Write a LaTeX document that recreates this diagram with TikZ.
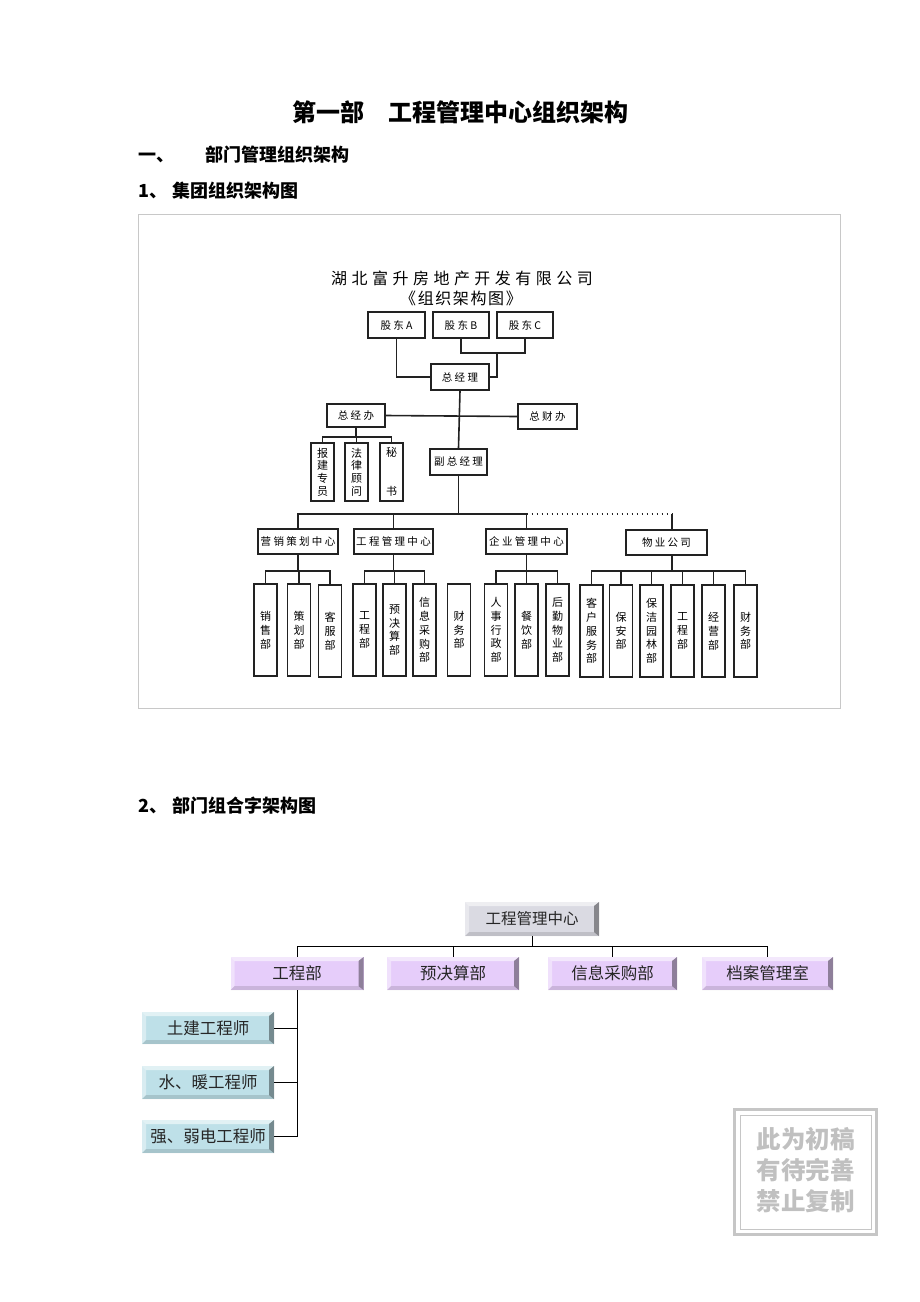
\documentclass[tikz,border=0pt]{standalone}
\usepackage{fontspec}
\setmainfont{Noto Sans CJK SC}
\newfontfamily\spaced[LetterSpace=22]{Noto Sans CJK SC}
\newfontfamily\widespaced[LetterSpace=28]{Noto Sans CJK SC}
\newfontfamily\halfspaced[LetterSpace=10]{Noto Sans CJK SC}
\usepackage{tikz}
\usetikzlibrary{positioning}
\definecolor{linegray}{RGB}{34,34,34}
\definecolor{framegray}{RGB}{200,200,200}
\definecolor{topgray}{RGB}{218,218,226}
\definecolor{lavender}{RGB}{230,205,250}
\definecolor{paleblue}{RGB}{190,224,232}
\definecolor{stampgray}{RGB}{192,192,192}
\tikzset{
	hbox/.style={rectangle, draw=linegray, line width=1.8pt, fill=white, inner sep=0pt, font=\spaced\fontsize{10.5}{12}\selectfont},
	vbox/.style={rectangle, draw=linegray, line width=1.8pt, fill=white, inner sep=0pt, minimum width=23pt, minimum height=92pt, align=center, font=\fontsize{11}{13.8}\selectfont},
	link/.style={linegray, line width=1.6pt},
	thinlink/.style={black, line width=1pt},
	bevel/.style={rectangle, fill=#1, inner sep=0pt, text=black!85, font=\fontsize{16.5}{18}\selectfont,
		path picture={
			\fill[white,opacity=0.55] (path picture bounding box.north west) -- (path picture bounding box.north east)
				-- ([shift={(-5pt,-4pt)}]path picture bounding box.north east) -- ([shift={(4pt,-4pt)}]path picture bounding box.north west) -- cycle;
			\fill[white,opacity=0.4] (path picture bounding box.north west) -- ([shift={(4pt,-4pt)}]path picture bounding box.north west)
				-- ([shift={(4pt,4pt)}]path picture bounding box.south west) -- (path picture bounding box.south west) -- cycle;
			\fill[black,opacity=0.38] (path picture bounding box.north east) -- (path picture bounding box.south east)
				-- ([shift={(-5pt,4pt)}]path picture bounding box.south east) -- ([shift={(-5pt,-4pt)}]path picture bounding box.north east) -- cycle;
			\fill[black,opacity=0.12] (path picture bounding box.south west) -- (path picture bounding box.south east)
				-- ([shift={(-5pt,4pt)}]path picture bounding box.south east) -- ([shift={(4pt,4pt)}]path picture bounding box.south west) -- cycle;
		}}
}

\begin{document}
\begin{tikzpicture}[x=1pt,y=-1pt]
	\useasboundingbox (0,0) rectangle (920,1302);
	% headings
	\node[font=\bfseries\fontsize{24}{26}\selectfont] (title) at (460,112) {第一部\hspace{24pt}工程管理中心组织架构};
	\node[anchor=west, font=\bfseries\fontsize{18}{20}\selectfont, inner sep=0pt] (sec1) at (138,155) {一、\hspace{31pt}部门管理组织架构};
	\node[anchor=west, font=\bfseries\fontsize{18}{20}\selectfont, inner sep=0pt] (sub1) at (138,191) {1、\hspace{5pt}集团组织架构图};
	\node[anchor=west, font=\bfseries\fontsize{18}{20}\selectfont, inner sep=0pt] (sub2) at (138,806) {2、\hspace{5pt}部门组合字架构图};
	\draw[framegray, line width=0.8pt] (138,214) rectangle (840,708);
	% chart title
	\node[font=\widespaced\fontsize{16}{18}\selectfont, inner sep=0pt] (ctitle) at (462,278) {湖北富升房地产开发有限公司};
	\node[font=\halfspaced\fontsize{16}{18}\selectfont, inner sep=0pt] (csub) at (461,298) {《组织架构图》};
	% top of chart
	\node[hbox, minimum width=57pt, minimum height=26pt] (gdA) at (396.5,325) {股东A};
	\node[hbox, minimum width=56pt, minimum height=26pt] (gdB) at (461,325) {股东B};
	\node[hbox, minimum width=56pt, minimum height=26pt] (gdC) at (525,325) {股东C};
	\node[hbox, minimum width=58pt, minimum height=26pt] (zjl) at (460,377) {总经理};
	\node[hbox, minimum width=58pt, minimum height=23pt] (zjb) at (356,415.5) {总经办};
	\node[hbox, minimum width=59pt, minimum height=25pt] (zcb) at (547.5,416.5) {总财办};
	\node[hbox, minimum width=57pt, minimum height=26pt] (fzjl) at (458.5,462) {副总经理};
	\node[vbox, minimum height=58pt, font=\fontsize{11}{12.7}\selectfont] (bjzy) at (322.5,472) {报\\建\\专\\员};
	\node[vbox, minimum height=58pt, font=\fontsize{11}{12.7}\selectfont] (flgw) at (356.5,472) {法\\律\\顾\\问};
	\node[vbox, minimum height=58pt, font=\fontsize{11}{13}\selectfont] (mish) at (391.5,472) {秘\\~\\~\\书};
	\coordinate (gdbus) at (0,353);
	\coordinate (zjbbus) at (0,437);
	\draw[link] (gdA.south) |- (zjl.west);
	\draw[link] (gdB.south) -- (gdB.south |- gdbus) -- (gdC.south |- gdbus) -- (gdC.south);
	\draw[link] (497,353) |- (zjl.east);
	\draw[link] (zjl.south) -- (fzjl.north);
	\draw[link] (zjb.east) -- (zcb.west);
	\draw[link] (zjb.south) -- (zjb.south |- zjbbus);
	\draw[link] (bjzy.north) -- (bjzy.north |- zjbbus) -- (mish.north |- zjbbus) -- (mish.north);
	\draw[link] (flgw.north) -- (flgw.north |- zjbbus);
	% centres
	\node[hbox, minimum width=80pt, minimum height=25pt] (yxch) at (298,541.5) {营销策划中心};
	\node[hbox, minimum width=79pt, minimum height=25pt] (gcgl) at (393.5,541.5) {工程管理中心};
	\node[hbox, minimum width=81pt, minimum height=25pt] (qygl) at (526.5,541.5) {企业管理中心};
	\node[hbox, minimum width=81pt, minimum height=25pt] (wygs) at (666.5,542.5) {物业公司};
	\coordinate (cbus) at (0,514);
	\coordinate (wyx) at (672,0);
	\draw[link] (fzjl.south) -- (fzjl.south |- cbus);
	\draw[link] (yxch.north) -- (yxch.north |- cbus) -- (qygl.north |- cbus) -- (qygl.north);
	\draw[link] (gcgl.north) -- (gcgl.north |- cbus);
	\draw[linegray, line width=1.6pt, dash pattern=on 1.4pt off 3.6pt] (qygl.north |- cbus) -- (wyx |- cbus);
	\draw[link] (wyx |- cbus) -- (wyx |- wygs.north);
	% departments
	\node[vbox] (xsb) at (265.5,630) {销\\售\\部};
	\node[vbox] (chb) at (299,630) {策\\划\\部};
	\node[vbox] (kfb) at (330,631) {客\\服\\部};
	\node[vbox] (gcb) at (364.5,630) {工\\程\\部};
	\node[vbox] (yjsb) at (394.5,630) {预\\决\\算\\部};
	\node[vbox] (xxcgb) at (424.5,630) {信\\息\\采\\购\\部};
	\node[vbox] (cwb) at (459,630) {财\\务\\部};
	\node[vbox] (rsxzb) at (496,630) {人\\事\\行\\政\\部};
	\node[vbox] (cyb) at (526.5,630) {餐\\饮\\部};
	\node[vbox] (hqwyb) at (557.5,630) {后\\勤\\物\\业\\部};
	\node[vbox] (khfwb) at (591.5,631) {客\\户\\服\\务\\部};
	\node[vbox] (bab) at (621,631) {保\\安\\部};
	\node[vbox] (bjylb) at (651.5,631) {保\\洁\\园\\林\\部};
	\node[vbox] (wygcb) at (682.5,631) {工\\程\\部};
	\node[vbox] (jyb) at (713.5,631) {经\\营\\部};
	\node[vbox] (wycwb) at (745.5,631) {财\\务\\部};
	\coordinate (dbus) at (0,571);
	\draw[link] (yxch.south) -- (yxch.south |- dbus);
	\draw[link] (xsb.north) -- (xsb.north |- dbus) -- (kfb.north |- dbus) -- (kfb.north);
	\draw[link] (chb.north) -- (chb.north |- dbus);
	\draw[link] (gcgl.south) -- (gcgl.south |- dbus);
	\draw[link] (gcb.north) -- (gcb.north |- dbus) -- (xxcgb.north |- dbus) -- (xxcgb.north);
	\draw[link] (yjsb.north) -- (yjsb.north |- dbus);
	\draw[link] (qygl.south) -- (qygl.south |- dbus);
	\draw[link] (rsxzb.north) -- (rsxzb.north |- dbus) -- (hqwyb.north |- dbus) -- (hqwyb.north);
	\draw[link] (cyb.north) -- (cyb.north |- dbus);
	\draw[link] (wyx |- wygs.south) -- (wyx |- dbus);
	\draw[link] (khfwb.north) -- (khfwb.north |- dbus) -- (wycwb.north |- dbus) -- (wycwb.north);
	\draw[link] (bab.north) -- (bab.north |- dbus);
	\draw[link] (bjylb.north) -- (bjylb.north |- dbus);
	\draw[link] (wygcb.north) -- (wygcb.north |- dbus);
	\draw[link] (jyb.north) -- (jyb.north |- dbus);
	% second chart
	\node[bevel=topgray, minimum width=134pt, minimum height=34pt, font=\fontsize{15.5}{18}\selectfont] (lgcgl) at (532,919) {工程管理中心};
	\node[bevel=lavender, minimum width=133pt, minimum height=33pt] (lgcb) at (297,973.5) {工程部};
	\node[bevel=lavender, minimum width=132pt, minimum height=33pt] (lyjsb) at (453,973.5) {预决算部};
	\node[bevel=lavender, minimum width=129pt, minimum height=33pt] (lxxcgb) at (612.5,973.5) {信息采购部};
	\node[bevel=lavender, minimum width=131pt, minimum height=33pt] (ldagls) at (767.5,973.5) {档案管理室};
	\node[bevel=paleblue, minimum width=132pt, minimum height=32pt] (ltjgcs) at (208,1028) {土建工程师};
	\node[bevel=paleblue, minimum width=132pt, minimum height=33pt] (lsngcs) at (208,1082.5) {水、暖工程师};
	\node[bevel=paleblue, minimum width=132pt, minimum height=33pt] (lqrdgcs) at (208,1136.5) {强、弱电工程师};
	\coordinate (lbus) at (0,946);
	\draw[thinlink] (lgcgl.south) -- (lgcgl.south |- lbus);
	\draw[thinlink] (lgcb.north) -- (lgcb.north |- lbus) -- (ldagls.north |- lbus) -- (ldagls.north);
	\draw[thinlink] (lyjsb.north) -- (lyjsb.north |- lbus);
	\draw[thinlink] (lxxcgb.north) -- (lxxcgb.north |- lbus);
	\draw[thinlink] (lgcb.south) -- (lgcb.south |- lqrdgcs.east);
	\draw[thinlink] (ltjgcs.east) -- (lgcb.south |- ltjgcs.east);
	\draw[thinlink] (lsngcs.east) -- (lgcb.south |- lsngcs.east);
	\draw[thinlink] (lqrdgcs.east) -- (lgcb.south |- lqrdgcs.east);
	% stamp
	\draw[stampgray!90, line width=3pt] (734.5,1109.5) rectangle (876.5,1234.5);
	\draw[stampgray!90, line width=1pt] (740,1115) rectangle (871,1229);
	\node[text=stampgray, font=\bfseries\fontsize{24.5}{31}\selectfont, align=center] (stamp) at (805.5,1170) {此为初稿\\有待完善\\禁止复制};
\end{tikzpicture}
\end{document}
